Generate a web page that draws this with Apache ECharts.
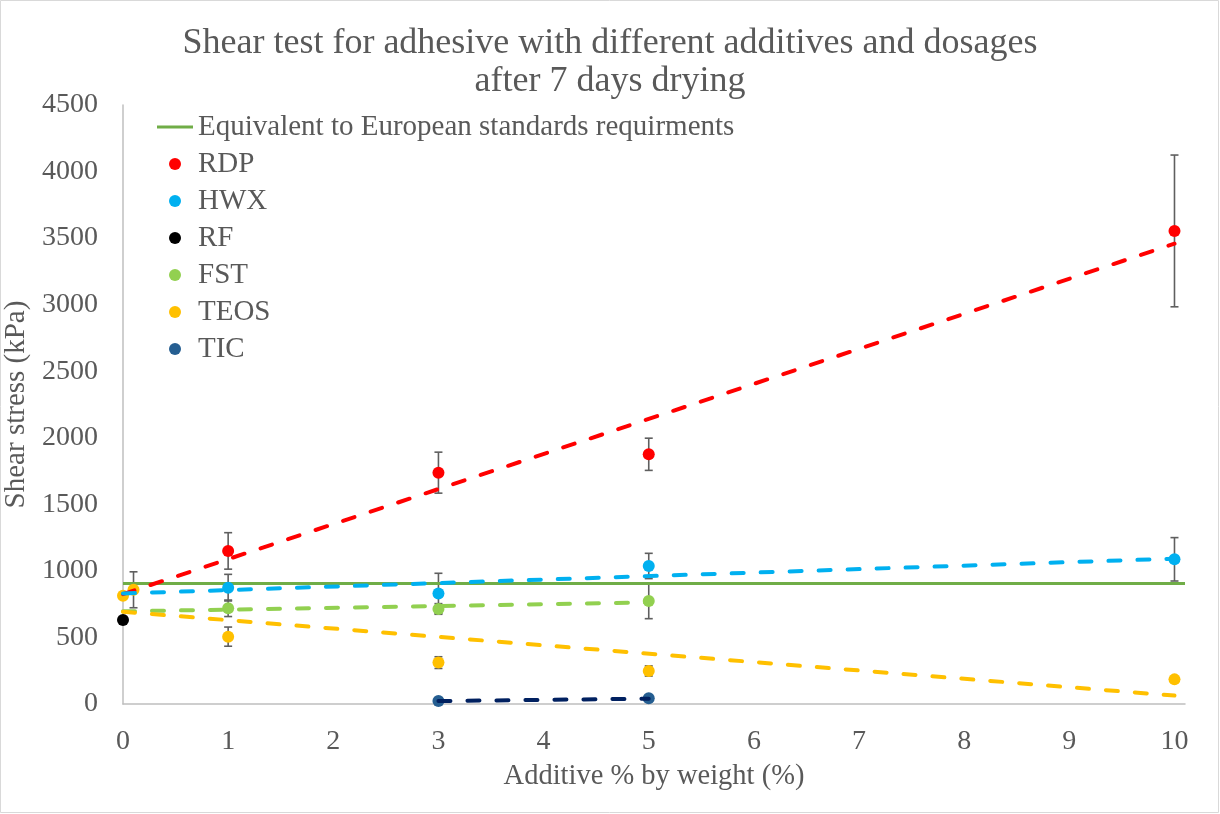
<!DOCTYPE html>
<html>
<head>
<meta charset="utf-8">
<script src="https://cdn.jsdelivr.net/npm/echarts@6/dist/echarts.min.js"></script>
<style>
html,body{margin:0;padding:0;background:#fff;}
#chart{width:1220px;height:814px;}
</style>
</head>
<body>
<div id="chart"></div>
<script>
// ---- data ----
const titleLines = ['Shear test for adhesive with different additives and dosages', 'after 7 days drying'];
const xAxisName = 'Additive % by weight (%)';
const yAxisName = 'Shear stress (kPa)';
const xMin = 0, xMax = 10.1, xStep = 1;
const yMin = 0, yMax = 4500, yStep = 500;

const standardName = 'Equivalent to European standards requirments';
const standardX = [0, 10.1];
const standardY = [905, 905];

const rdpX = [1, 3, 5, 10];
const rdpY = [1150, 1738, 1876, 3554];
const rdpErr = [137, 154, 121, 570];
const rdpTrendX = [0, 10];
const rdpTrendY = [825, 3458];

const hwxX = [1, 3, 5, 10];
const hwxY = [874, 831, 1037, 1087];
const hwxErr = [100, 151, 95, 163];
const hwxTrendX = [0, 10];
const hwxTrendY = [830, 1092];

const rfX = [0];
const rfY = [631];

const fstX = [1, 3, 5];
const fstY = [719, 714, 774];
const fstErr = [62, 40, 133];
const fstTrendX = [0, 5];
const fstTrendY = [696, 763];

const teosX = [0, 0.1, 1, 3, 5, 10];
const teosY = [813, 858, 506, 311, 248, 185];
const teosErr = [0, 135, 72, 44, 38, 0];
const teosTrendX = [0, 10];
const teosTrendY = [693, 63];

const ticX = [3, 5];
const ticY = [23, 43];
const ticTrendX = [3, 5];
const ticTrendY = [22, 40];

const seriesNames = ['RDP', 'HWX', 'RF', 'FST', 'TEOS', 'TIC'];
const seriesColors = ['#FF0000', '#00B0F0', '#000000', '#92D050', '#FFC000', '#255E91'];
const trendColors = ['#FF0000', '#00B0F0', null, '#92D050', '#FFC000', '#002060'];
const standardColor = '#70AD47';

// ---- build ----
const FONT = "'Liberation Serif','Times New Roman',serif";
const TXT = '#595959';
const zip = (xs, ys) => xs.map((x, i) => [x, ys[i]]);
const errData = (xs, ys, es) => xs.map((x, i) => [x, ys[i] - es[i], ys[i] + es[i]]).filter((d, i) => es[i] > 0);

const groups = [
  {x: rdpX, y: rdpY, e: rdpErr, tx: rdpTrendX, ty: rdpTrendY},
  {x: hwxX, y: hwxY, e: hwxErr, tx: hwxTrendX, ty: hwxTrendY},
  {x: rfX, y: rfY, e: null, tx: null, ty: null},
  {x: fstX, y: fstY, e: fstErr, tx: fstTrendX, ty: fstTrendY},
  {x: teosX, y: teosY, e: teosErr, tx: teosTrendX, ty: teosTrendY},
  {x: ticX, y: ticY, e: null, tx: ticTrendX, ty: ticTrendY}
];

const series = [];
series.push({
  name: standardName, type: 'line', data: zip(standardX, standardY),
  symbol: 'none', lineStyle: {color: standardColor, width: 3}, itemStyle: {color: standardColor},
  z: 2, silent: true
});

groups.forEach((g, i) => {
  if (g.e) {
    series.push({
      name: seriesNames[i] + ' error', type: 'custom', z: 1, silent: true,
      data: errData(g.x, g.y, g.e),
      encode: {x: 0, y: [1, 2]},
      renderItem: function (params, api) {
        const top = api.coord([api.value(0), api.value(2)]);
        const bot = api.coord([api.value(0), api.value(1)]);
        const h = 4;
        const st = {stroke: '#5F5F5F', lineWidth: 1.6};
        return {type: 'group', children: [
          {type: 'line', shape: {x1: top[0], y1: top[1], x2: bot[0], y2: bot[1]}, style: st},
          {type: 'line', shape: {x1: top[0] - h, y1: top[1], x2: top[0] + h, y2: top[1]}, style: st},
          {type: 'line', shape: {x1: bot[0] - h, y1: bot[1], x2: bot[0] + h, y2: bot[1]}, style: st}
        ]};
      }
    });
  }
});

groups.forEach((g, i) => {
  series.push({
    name: seriesNames[i], type: 'scatter', data: zip(g.x, g.y),
    symbol: 'circle', symbolSize: 12, itemStyle: {color: seriesColors[i], opacity: 1}, z: 3
  });
});

groups.forEach((g, i) => {
  if (g.tx) {
    series.push({
      name: seriesNames[i] + ' trend', type: 'line', data: zip(g.tx, g.ty),
      symbol: 'none', silent: true, z: 4,
      lineStyle: {color: trendColors[i], width: 4, type: [12, 17], cap: 'round'}
    });
  }
});

const legendData = [{name: standardName, icon: 'path://M0,0 L36,0 L36,3 L0,3 Z', itemStyle: {color: standardColor}}]
  .concat(seriesNames.map((n, i) => ({name: n, icon: 'circle', itemStyle: {color: seriesColors[i]}})));

const chart = echarts.init(document.getElementById('chart'), null, {renderer: 'canvas'});
chart.setOption({
  animation: false,
  backgroundColor: '#fff',
  graphic: [{type: 'rect', shape: {x: 0.5, y: 0.5, width: 1218, height: 812}, style: {fill: 'none', stroke: '#D9D9D9', lineWidth: 1}, silent: true}],
  title: {
    text: titleLines.join('\n'), left: 'center', top: 20,
    textStyle: {fontFamily: FONT, fontSize: 36, fontWeight: 'normal', color: TXT, lineHeight: 38}
  },
  legend: {
    orient: 'vertical', left: 157, top: 112, padding: 0,
    itemWidth: 36, itemHeight: 12, itemGap: 7,
    textStyle: {fontFamily: FONT, fontSize: 29, color: TXT, lineHeight: 30},
    data: legendData, selectedMode: false
  },
  grid: {left: 123, right: 35, top: 105, bottom: 110, containLabel: false, outerBoundsMode: 'none'},
  xAxis: {
    type: 'value', min: xMin, max: xMax, interval: xStep,
    name: xAxisName, nameLocation: 'middle', nameGap: 58,
    nameTextStyle: {fontFamily: FONT, fontSize: 28.5, color: TXT},
    axisLine: {show: true, lineStyle: {color: '#BFBFBF', width: 1.5}},
    axisTick: {show: false}, splitLine: {show: false},
    axisLabel: {fontFamily: FONT, fontSize: 28, color: TXT, margin: 24, showMaxLabel: true,
      formatter: v => (Math.abs(v - Math.round(v)) < 1e-9 ? String(Math.round(v)) : '')}
  },
  yAxis: {
    type: 'value', min: yMin, max: yMax, interval: yStep,
    name: yAxisName, nameLocation: 'middle', nameGap: 84,
    nameTextStyle: {fontFamily: FONT, fontSize: 29, color: TXT},
    axisLine: {show: true, lineStyle: {color: '#BFBFBF', width: 1.5}},
    axisTick: {show: false}, splitLine: {show: false},
    axisLabel: {fontFamily: FONT, fontSize: 28, color: TXT, margin: 25, formatter: v => String(v)}
  },
  series: series
});
</script>
</body>
</html>
